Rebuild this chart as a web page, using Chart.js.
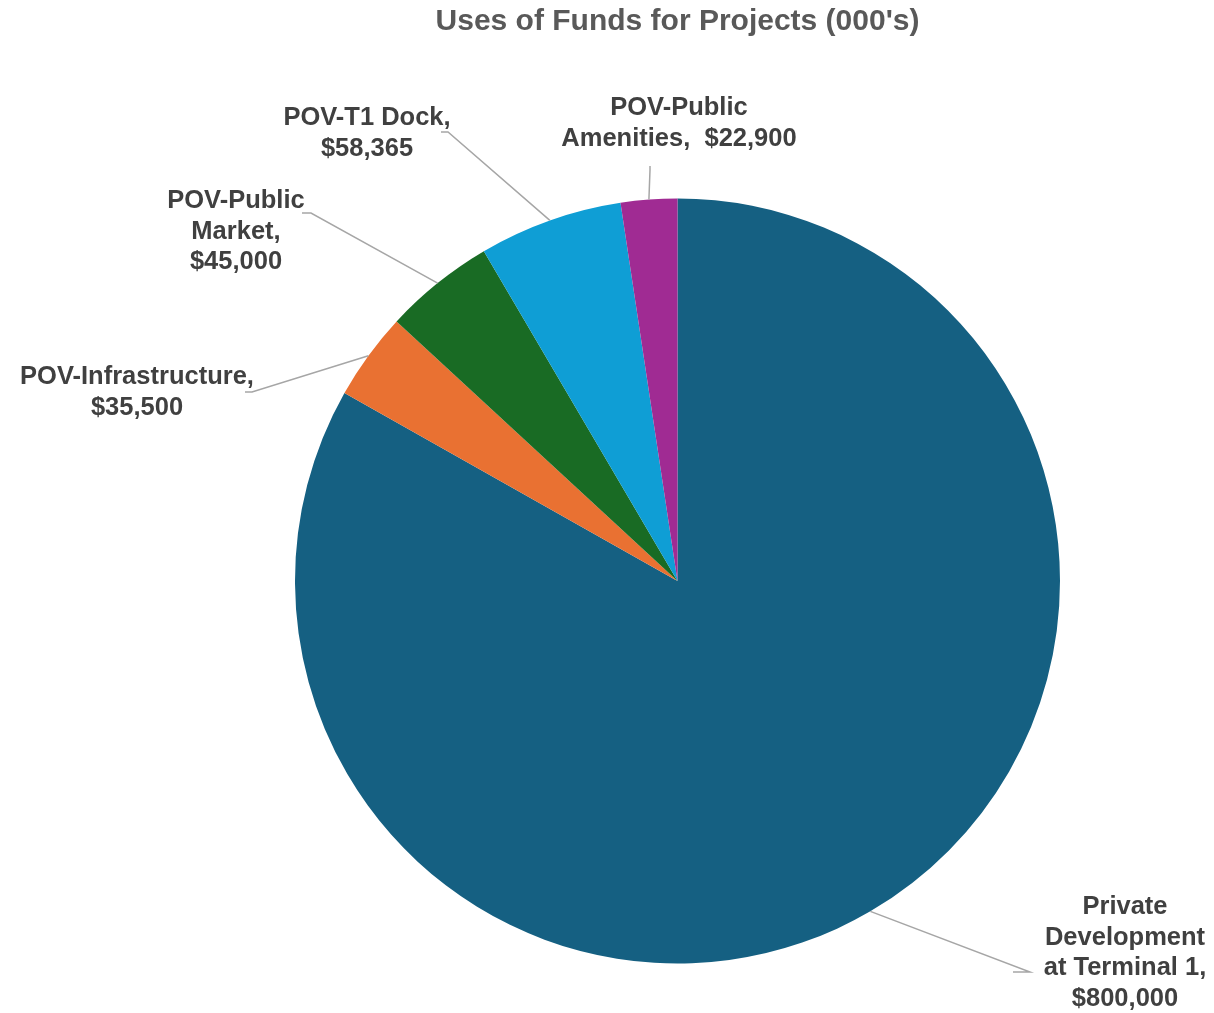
<!DOCTYPE html>
<html>
<head>
<meta charset="utf-8">
<script src="https://cdn.jsdelivr.net/npm/chart.js@4"></script>
<style>
  html, body { margin: 0; padding: 0; background: #fff; }
  #wrap { width: 1214px; height: 1013px; }
</style>
</head>
<body>
<div id="wrap"><canvas id="pieChart" width="1214" height="1013"></canvas></div>
<script>
const categories = [
  "Private Development at Terminal 1",
  "POV-Infrastructure",
  "POV-Public Market",
  "POV-T1 Dock",
  "POV-Public Amenities",
];
const values = [800000, 35500, 45000, 58365, 22900];
const sliceColors = ["#156082", "#E97132", "#196B24", "#0F9ED5", "#A02B93"];

// label placement: text lines ({v} = value), text centre x, first line y, leader elbow + end
const labelLayout = [
  { lines: ["Private", "Development", "at Terminal 1,", "{v}"], x: 1125, y: 907, elbow: [1030, 972], end: [1013, 972] },
  { lines: ["POV-Infrastructure,", "{v}"], x: 137, y: 377, elbow: [252, 392], end: [245, 392] },
  { lines: ["POV-Public", "Market,", "{v}"], x: 236, y: 201, elbow: [311, 213], end: [302, 213] },
  { lines: ["POV-T1 Dock,", "{v}"], x: 367, y: 118, elbow: [448, 132], end: [441, 132] },
  { lines: ["POV-Public", "Amenities,  {v}"], x: 679, y: 108, elbow: [650, 170], end: [650, 166] },
];

function fmt(v) {
  return "$" + v.toLocaleString("en-US");
}

const labelPlugin = {
  id: "pieLabels",
  afterDatasetsDraw(chart) {
    const ctx = chart.ctx;
    const arcs = chart.getDatasetMeta(0).data;
    ctx.save();
    arcs.forEach((arc, i) => {
      const lay = labelLayout[i];
      const mid = (arc.startAngle + arc.endAngle) / 2;
      const sx = arc.x + Math.cos(mid) * arc.outerRadius;
      const sy = arc.y + Math.sin(mid) * arc.outerRadius;
      ctx.strokeStyle = "#A6A6A6";
      ctx.lineWidth = 1.5;
      ctx.beginPath();
      ctx.moveTo(sx, sy);
      ctx.lineTo(lay.elbow[0], lay.elbow[1]);
      ctx.lineTo(lay.end[0], lay.end[1]);
      ctx.stroke();

      ctx.fillStyle = "#404040";
      ctx.font = "bold 25.5px 'Liberation Sans', Arial, sans-serif";
      ctx.textAlign = "center";
      ctx.textBaseline = "middle";
      lay.lines.forEach((ln, k) => {
        ctx.fillText(ln.replace("{v}", fmt(values[i])), lay.x, lay.y + k * 30.5);
      });
    });
    ctx.restore();
  },
};

new Chart(document.getElementById("pieChart").getContext("2d"), {
  type: "pie",
  data: {
    labels: categories,
    datasets: [
      {
        data: values,
        backgroundColor: sliceColors,
        borderWidth: 0,
      },
    ],
  },
  options: {
    responsive: false,
    animation: false,
    layout: {
      padding: { left: 295, right: 154, top: 0, bottom: 44 },
    },
    plugins: {
      legend: { display: false },
      tooltip: { enabled: false },
      title: {
        display: true,
        text: "Uses of Funds for Projects (000's)",
        color: "#595959",
        font: { size: 30, weight: "bold", family: "'Liberation Sans', Arial, sans-serif" },
        padding: { top: 4, bottom: 153 },
      },
    },
  },
  plugins: [labelPlugin],
});
</script>
</body>
</html>
